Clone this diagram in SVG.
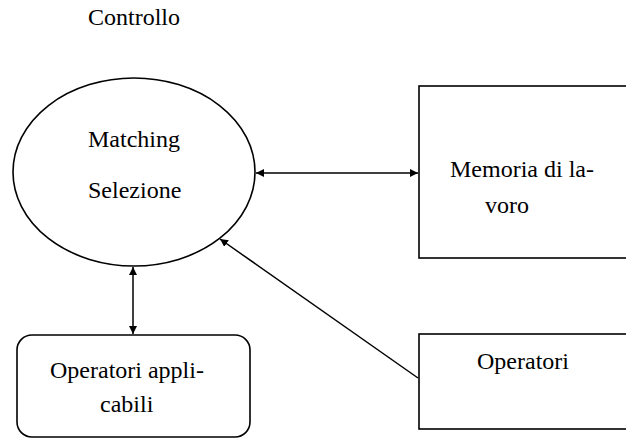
<svg xmlns="http://www.w3.org/2000/svg" width="626" height="439" viewBox="0 0 626 439">
<style>
.shape{fill:#fff;stroke:#000;stroke-width:1.6}
.lbl{font-family:'Liberation Serif','DejaVu Serif',serif;font-size:24px;fill:#000}
.conn{stroke:#000;stroke-width:1.5;fill:none}
</style>
<defs>
<marker id="ah" viewBox="0 0 10 10" refX="10" refY="5" markerWidth="8" markerHeight="8" markerUnits="userSpaceOnUse" orient="auto-start-reverse">
<path d="M0,0 L10,5 L0,10 z" fill="#000"/>
</marker>
</defs>
<rect width="626" height="439" fill="#fff"/>
<g id="controllo">
<text class="lbl" x="88" y="25" font-family="Liberation Serif, DejaVu Serif, serif">Controllo</text>
</g>
<g id="matching">
<ellipse class="shape" cx="134" cy="172" rx="121" ry="94"/>
<text class="lbl" x="88" y="147">Matching</text>
<text class="lbl" x="88" y="198">Selezione</text>
</g>
<g id="memoria">
<rect class="shape" x="419" y="86" width="220" height="172"/>
<text class="lbl" x="450" y="177">Memoria di la-</text>
<text class="lbl" x="485" y="213">voro</text>
</g>
<g id="operatori-applicabili">
<rect class="shape" x="17" y="335" width="233" height="102" rx="15" ry="15"/>
<text class="lbl" x="50" y="378">Operatori appli-</text>
<text class="lbl" x="100" y="412">cabili</text>
</g>
<g id="operatori">
<rect class="shape" x="419" y="334" width="220" height="95"/>
<text class="lbl" x="477" y="369">Operatori</text>
</g>
<g id="connectors">
<line class="conn" x1="256" y1="173" x2="418" y2="173" marker-start="url(#ah)" marker-end="url(#ah)"/>
<line class="conn" x1="133" y1="267" x2="133" y2="334" marker-start="url(#ah)" marker-end="url(#ah)"/>
<line class="conn" x1="418" y1="378" x2="220" y2="239" marker-end="url(#ah)"/>
</g>
</svg>
